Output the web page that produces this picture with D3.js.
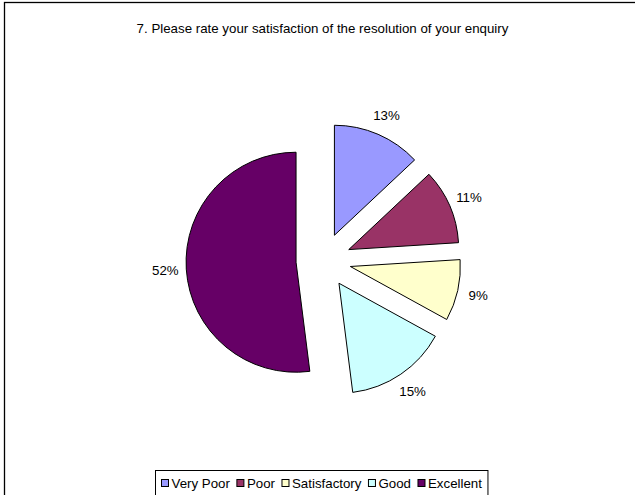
<!DOCTYPE html>
<html>
<head>
<meta charset="utf-8">
<script src="https://cdn.jsdelivr.net/npm/d3@7"></script>
<style>
  html, body { margin: 0; padding: 0; background: #fff; }
  svg { display: block; }
  text { font-family: "Liberation Sans", Arial, sans-serif; fill: #000; }
</style>
</head>
<body>
<svg id="chart" width="635" height="495"></svg>
<script>
const title = "7. Please rate your satisfaction of the resolution of your enquiry";
const categories = ["Very Poor", "Poor", "Satisfactory", "Good", "Excellent"];
const values = [13, 11, 9, 15, 52];
const palette = ["#9999FF", "#993366", "#FFFFCC", "#CCFFFF", "#660066"];

const W = 635, H = 495;
const svg = d3.select("#chart");

// chart frame
svg.append("rect")
  .attr("x", 4.5).attr("y", 2.5)
  .attr("width", 700).attr("height", 600)
  .attr("fill", "#fff").attr("stroke", "#000").attr("stroke-width", 1.3);

// title
svg.append("text")
  .attr("x", 322.5).attr("y", 33)
  .attr("text-anchor", "middle")
  .style("font-size", "13.3px")
  .text(title);

const color = d3.scaleOrdinal().domain(categories).range(palette);

const cx = 323.5, cy = 260.5, R = 110, explode = 27.5, labelR = 131;
const pie = d3.pie().sort(null).value(d => d.v).startAngle(0).endAngle(2 * Math.PI);
const arcs = pie(categories.map((c, i) => ({ c, v: values[i] })));
const arc = d3.arc().innerRadius(0).outerRadius(R);
const labelArc = d3.arc().innerRadius(labelR).outerRadius(labelR);

const g = svg.append("g").attr("transform", `translate(${cx},${cy})`);

const slice = g.selectAll("g.slice").data(arcs).join("g")
  .attr("class", "slice")
  .attr("transform", d => {
    const m = (d.startAngle + d.endAngle) / 2;
    return `translate(${explode * Math.sin(m)},${-explode * Math.cos(m)})`;
  });

slice.append("path")
  .attr("d", arc)
  .attr("fill", d => color(d.data.c))
  .attr("stroke", "#000")
  .attr("stroke-width", 1)
  .attr("stroke-linejoin", "round");

slice.append("text")
  .attr("transform", d => `translate(${labelArc.centroid(d)})`)
  .attr("text-anchor", "middle")
  .attr("dy", "0.36em")
  .style("font-size", "13.3px")
  .text(d => `${d.data.v}%`);

// legend
const legend = svg.append("g");
const legendRect = legend.append("rect")
  .attr("fill", "#fff").attr("stroke", "#000").attr("stroke-width", 1);
const items = legend.selectAll("g.item").data(categories).join("g").attr("class", "item");
items.append("rect")
  .attr("width", 7).attr("height", 7)
  .attr("y", 479.5)
  .attr("fill", d => color(d))
  .attr("stroke", "#000").attr("stroke-width", 1);
items.append("text")
  .attr("y", 487.5)
  .style("font-size", "13.3px")
  .text(d => d);

let x = 0;
const pad = 6, swGap = 3, itemGap = 7, sw = 7;
const widths = [];
items.each(function () {
  const w = d3.select(this).select("text").node().getComputedTextLength();
  widths.push(w);
});
const total = pad * 2 + widths.reduce((a, b) => a + b, 0) + categories.length * (sw + swGap) + (categories.length - 1) * itemGap;
const lx0 = Math.round(321.5 - total / 2) + 0.5;
x = lx0 + pad;
items.each(function (d, i) {
  const it = d3.select(this);
  it.select("rect").attr("x", x);
  it.select("text").attr("x", x + sw + swGap);
  x += sw + swGap + widths[i] + itemGap;
});
legendRect.attr("x", lx0).attr("y", 470.5).attr("width", total).attr("height", 40);
</script>
</body>
</html>
